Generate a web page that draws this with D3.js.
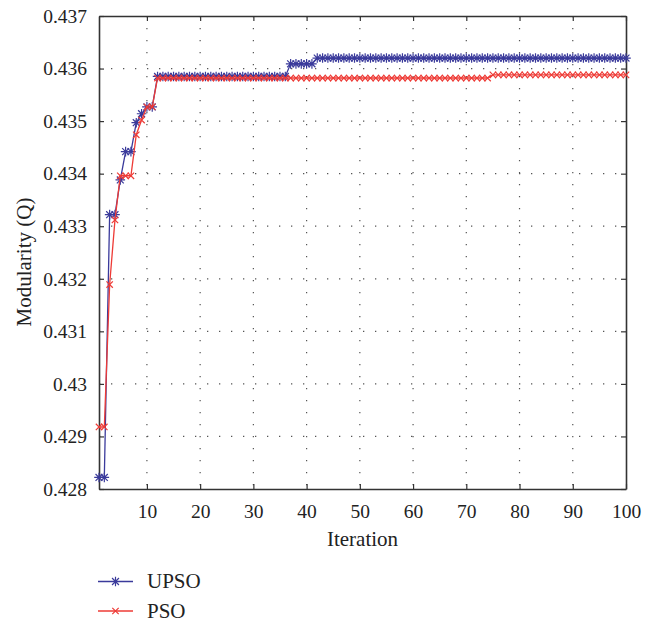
<!DOCTYPE html>
<html>
<head>
<meta charset="utf-8">
<script src="https://cdn.jsdelivr.net/npm/d3@7"></script>
<style>
body{margin:0;background:#fff;}
svg{display:block;}
text{font-family:"Liberation Serif","Times New Roman",serif;fill:#222;}
</style>
</head>
<body>
<script>
// iteration numbers (x categories)
const iterations = d3.range(1, 101);

// Modularity values
const upso = [
  0.42822, 0.42822, 0.43322, 0.43322, 0.43388, 0.43442, 0.43442, 0.43497, 0.43514, 0.43527,
  0.43527, 0.43585, 0.43585, 0.43585, 0.43585, 0.43585, 0.43585, 0.43585, 0.43585, 0.43585,
  0.43585, 0.43585, 0.43585, 0.43585, 0.43585, 0.43585, 0.43585, 0.43585, 0.43585, 0.43585,
  0.43585, 0.43585, 0.43585, 0.43585, 0.43585, 0.43585, 0.43609, 0.43609, 0.43609, 0.43609,
  0.43609, 0.43620, 0.43620, 0.43620, 0.43620, 0.43620, 0.43620, 0.43620, 0.43620, 0.43620,
  0.43620, 0.43620, 0.43620, 0.43620, 0.43620, 0.43620, 0.43620, 0.43620, 0.43620, 0.43620,
  0.43620, 0.43620, 0.43620, 0.43620, 0.43620, 0.43620, 0.43620, 0.43620, 0.43620, 0.43620,
  0.43620, 0.43620, 0.43620, 0.43620, 0.43620, 0.43620, 0.43620, 0.43620, 0.43620, 0.43620,
  0.43620, 0.43620, 0.43620, 0.43620, 0.43620, 0.43620, 0.43620, 0.43620, 0.43620, 0.43620,
  0.43620, 0.43620, 0.43620, 0.43620, 0.43620, 0.43620, 0.43620, 0.43620, 0.43620, 0.43620
];
const pso = [
  0.42918, 0.42918, 0.43189, 0.43312, 0.43396, 0.43396, 0.43396, 0.43474, 0.43502, 0.43527,
  0.43527, 0.43582, 0.43582, 0.43582, 0.43582, 0.43582, 0.43582, 0.43582, 0.43582, 0.43582,
  0.43582, 0.43582, 0.43582, 0.43582, 0.43582, 0.43582, 0.43582, 0.43582, 0.43582, 0.43582,
  0.43582, 0.43582, 0.43582, 0.43582, 0.43582, 0.43582, 0.43582, 0.43582, 0.43582, 0.43582,
  0.43582, 0.43582, 0.43582, 0.43582, 0.43582, 0.43582, 0.43582, 0.43582, 0.43582, 0.43582,
  0.43582, 0.43582, 0.43582, 0.43582, 0.43582, 0.43582, 0.43582, 0.43582, 0.43582, 0.43582,
  0.43582, 0.43582, 0.43582, 0.43582, 0.43582, 0.43582, 0.43582, 0.43582, 0.43582, 0.43582,
  0.43582, 0.43582, 0.43582, 0.43582, 0.43588, 0.43588, 0.43588, 0.43588, 0.43588, 0.43588,
  0.43588, 0.43588, 0.43588, 0.43588, 0.43588, 0.43588, 0.43588, 0.43588, 0.43588, 0.43588,
  0.43588, 0.43588, 0.43588, 0.43588, 0.43588, 0.43588, 0.43588, 0.43588, 0.43588, 0.43588
];

const seriesNames = ["UPSO", "PSO"];
const xTicks = [10, 20, 30, 40, 50, 60, 70, 80, 90, 100];
const yTicks = [0.428, 0.429, 0.43, 0.431, 0.432, 0.433, 0.434, 0.435, 0.436, 0.437];
const xLabel = "Iteration";
const yLabel = "Modularity (Q)";

var width = 656, height = 622;
var pLeft = 99, pTop = 16, pRight = 626, pBottom = 489;
var blue = "#3a3a9b", red = "#ee3b36";

var svg = d3.select("body").append("svg")
  .attr("width", width)
  .attr("height", height);

var xscale = d3.scaleLinear().domain([1, 100]).range([pLeft, pRight]);
var yscale = d3.scaleLinear().domain([0.428, 0.437]).range([pBottom, pTop]);

// dotted grid
var grid = svg.append("g").attr("stroke", "#555").attr("stroke-width", 1.2)
  .attr("stroke-dasharray", "1.3,10.7");
grid.selectAll("line.gx").data(xTicks.slice(0, -1)).enter().append("line")
  .attr("x1", d => xscale(d)).attr("x2", d => xscale(d))
  .attr("y1", pTop).attr("y2", pBottom);
grid.selectAll("line.gy").data(yTicks.slice(1, -1)).enter().append("line")
  .attr("x1", pLeft).attr("x2", pRight)
  .attr("y1", d => yscale(d)).attr("y2", d => yscale(d));

// axes (box with inward ticks)
var fmt = d => String(+d.toFixed(3));
var xAxis = d3.axisBottom(xscale).tickValues(xTicks).tickSizeInner(-5).tickSizeOuter(0).tickPadding(15);
var xTop = d3.axisTop(xscale).tickValues(xTicks).tickSizeInner(-5).tickSizeOuter(0).tickFormat("");
var yAxis = d3.axisLeft(yscale).tickValues(yTicks).tickSizeInner(-5).tickSizeOuter(0).tickPadding(12).tickFormat(fmt);
var yRight = d3.axisRight(yscale).tickValues(yTicks).tickSizeInner(-5).tickSizeOuter(0).tickFormat("");

function styleAxis(g) {
  g.select(".domain").attr("stroke", "#333").attr("stroke-width", 1.6);
  g.selectAll(".tick line").attr("stroke", "#333").attr("stroke-width", 1.2);
  g.selectAll(".tick text").attr("fill", "#222").style("font-size", "19.5px")
    .style("font-family", "'Liberation Serif','Times New Roman',serif");
}

svg.append("g").attr("transform", "translate(0," + pBottom + ")").call(xAxis).call(styleAxis);
svg.append("g").attr("transform", "translate(0," + pTop + ")").call(xTop).call(styleAxis);
svg.append("g").attr("transform", "translate(" + pLeft + ",0)").call(yAxis).call(styleAxis);
svg.append("g").attr("transform", "translate(" + pRight + ",0)").call(yRight).call(styleAxis);

// markers
function starPath(r) {
  var a = r * 0.72;
  return "M" + (-r) + ",0L" + r + ",0M0," + (-r) + "L0," + r +
    "M" + (-a) + "," + (-a) + "L" + a + "," + a + "M" + (-a) + "," + a + "L" + a + "," + (-a);
}
function crossPath(r) {
  return "M" + (-r) + "," + (-r) + "L" + r + "," + r + "M" + (-r) + "," + r + "L" + r + "," + (-r);
}

var series = [
  { name: seriesNames[0], values: upso, color: blue, marker: starPath(4.8) },
  { name: seriesNames[1], values: pso, color: red, marker: crossPath(3.2) }
];

var line = d3.line().x(d => xscale(d[0])).y(d => yscale(d[1]));

series.forEach(function (s) {
  var pts = iterations.map((it, i) => [it, s.values[i]]);
  var g = svg.append("g");
  g.append("path").datum(pts)
    .attr("fill", "none").attr("stroke", s.color).attr("stroke-width", 1.3)
    .attr("d", line);
  g.selectAll("path.m").data(pts).enter().append("path")
    .attr("class", "m")
    .attr("transform", d => "translate(" + xscale(d[0]) + "," + yscale(d[1]) + ")")
    .attr("d", s.marker)
    .attr("fill", "none").attr("stroke", s.color).attr("stroke-width", 1.2);
});

// axis titles
svg.append("text").attr("x", (pLeft + pRight) / 2).attr("y", 546)
  .attr("text-anchor", "middle").style("font-size", "21px").text(xLabel);
svg.append("text").attr("transform", "translate(31,262) rotate(-90)")
  .attr("text-anchor", "middle").style("font-size", "21px").text(yLabel);

// legend
var legend = svg.append("g");
series.forEach(function (s, i) {
  var y = 581.5 + i * 29.5;
  legend.append("line").attr("x1", 98).attr("x2", 133).attr("y1", y).attr("y2", y)
    .attr("stroke", s.color).attr("stroke-width", 1.3);
  legend.append("path").attr("transform", "translate(115.5," + y + ")")
    .attr("d", s.marker).attr("fill", "none").attr("stroke", s.color).attr("stroke-width", 1.2);
  legend.append("text").attr("x", 147).attr("y", y + 6.5)
    .style("font-size", "21px").text(s.name);
});
</script>
</body>
</html>
